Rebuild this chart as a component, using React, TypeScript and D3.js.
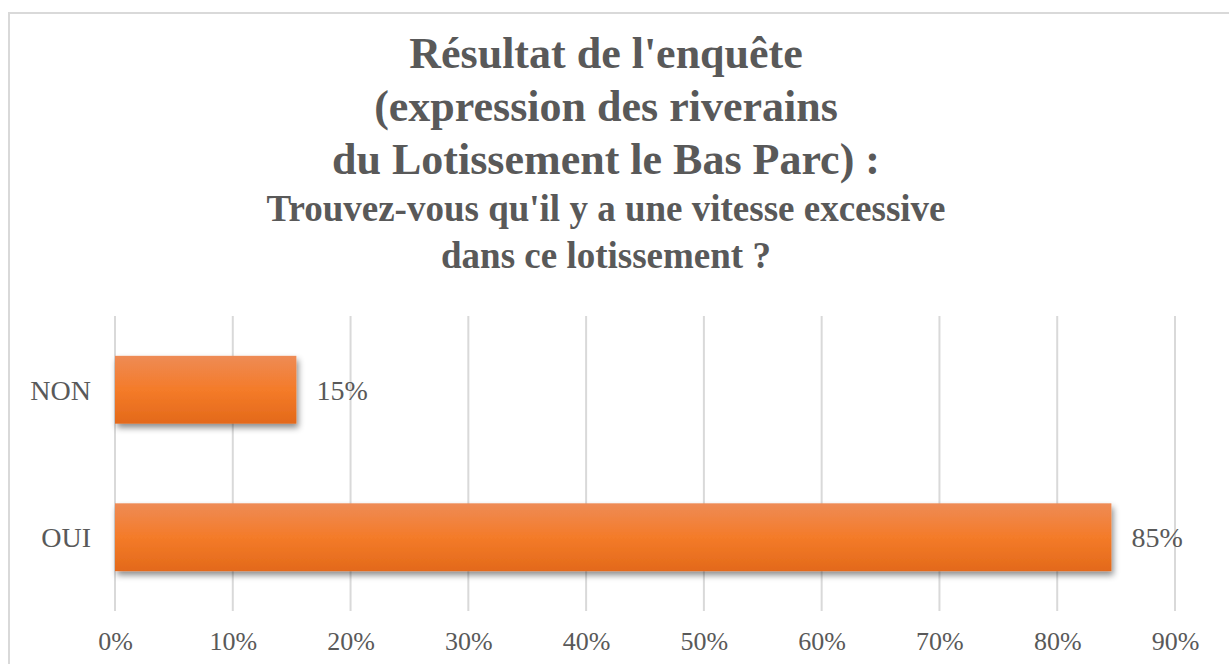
import React, { useEffect, useRef } from 'react';
import * as d3 from 'd3';

// Survey answers (percent)
const categories: string[] = ['NON', 'OUI'];
const values: number[] = [15.4, 84.6];
const valueLabels: string[] = ['15%', '85%'];
const xTicks: number[] = [0, 10, 20, 30, 40, 50, 60, 70, 80, 90];

const titleLines: string[] = [
  "Résultat de l'enquête",
  '(expression des riverains',
  'du Lotissement le Bas Parc) :',
];
const subtitleLines: string[] = [
  "Trouvez-vous qu'il y a une vitesse excessive",
  'dans ce lotissement ?',
];

const TEXT = '#595959';
const GRID = '#D9D9D9';
const FONT = '"Liberation Serif", "Times New Roman", serif';

const App: React.FC = () => {
  const chartRef = useRef<SVGSVGElement | null>(null);

  useEffect(() => {
    d3.select(chartRef.current).selectAll('*').remove();

    const width = 1229;
    const height = 664;
    const plot = { left: 115, right: 1175, top: 316, bottom: 611 };
    const titleX = 606;

    const svg = d3
      .select(chartRef.current)
      .attr('width', width)
      .attr('height', height)
      .style('font-family', FONT);

    // defs: bar gradient + shadow
    const defs = svg.append('defs');
    const grad = defs
      .append('linearGradient')
      .attr('id', 'barGrad')
      .attr('x1', 0)
      .attr('y1', 0)
      .attr('x2', 0)
      .attr('y2', 1);
    grad.append('stop').attr('offset', '0%').attr('stop-color', '#EE8B55');
    grad.append('stop').attr('offset', '50%').attr('stop-color', '#F47B29');
    grad.append('stop').attr('offset', '100%').attr('stop-color', '#E3691A');

    const shadow = defs
      .append('filter')
      .attr('id', 'barShadow')
      .attr('x', '-5%')
      .attr('y', '-20%')
      .attr('width', '115%')
      .attr('height', '150%');
    shadow
      .append('feDropShadow')
      .attr('dx', 2)
      .attr('dy', 4)
      .attr('stdDeviation', 3)
      .attr('flood-color', '#000')
      .attr('flood-opacity', 0.45);

    svg
      .append('rect')
      .attr('width', width)
      .attr('height', height)
      .attr('fill', '#fff');

    // outer chart border
    svg
      .append('rect')
      .attr('x', 9)
      .attr('y', 13)
      .attr('width', 1250)
      .attr('height', 700)
      .attr('fill', 'none')
      .attr('stroke', GRID)
      .attr('stroke-width', 2);

    // Title
    const title = svg
      .append('text')
      .attr('text-anchor', 'middle')
      .attr('fill', TEXT)
      .attr('font-weight', 'bold');
    titleLines.forEach((line, i) => {
      title
        .append('tspan')
        .attr('x', titleX)
        .attr('y', 68 + i * 53)
        .attr('font-size', 44)
        .text(line);
    });
    subtitleLines.forEach((line, i) => {
      title
        .append('tspan')
        .attr('x', titleX)
        .attr('y', 221 + i * 47)
        .attr('font-size', 37)
        .text(line);
    });

    // Scales
    const xScale = d3
      .scaleLinear()
      .domain([0, 90])
      .range([plot.left, plot.right]);

    const yScale = d3
      .scaleBand()
      .domain(categories)
      .range([plot.top, plot.bottom])
      .paddingInner(0.54)
      .paddingOuter(0.27);

    // Gridlines
    svg
      .append('g')
      .selectAll('line')
      .data(xTicks)
      .enter()
      .append('line')
      .attr('x1', (d) => xScale(d))
      .attr('x2', (d) => xScale(d))
      .attr('y1', plot.top)
      .attr('y2', plot.bottom)
      .attr('stroke', GRID)
      .attr('stroke-width', 2);

    // X axis labels
    const xAxis = d3
      .axisBottom(xScale)
      .tickValues(xTicks)
      .tickSize(0)
      .tickPadding(0)
      .tickFormat((d) => `${d}%`);

    const xg = svg
      .append('g')
      .attr('transform', `translate(0,${plot.bottom})`)
      .call(xAxis);
    xg.select('.domain').remove();
    xg.selectAll('text')
      .attr('y', 39)
      .attr('dy', 0)
      .attr('fill', TEXT)
      .style('font-size', '26px')
      .style('font-family', FONT);

    // Y axis labels
    const yAxis = d3.axisLeft(yScale).tickSize(0).tickPadding(0);
    const yg = svg.append('g').attr('transform', 'translate(91,0)').call(yAxis);
    yg.select('.domain').remove();
    yg.selectAll('text')
      .attr('dy', '0.35em')
      .attr('fill', TEXT)
      .style('font-size', '28px')
      .style('font-family', FONT);

    // Bars
    svg
      .selectAll('.bar')
      .data(values)
      .enter()
      .append('rect')
      .attr('class', 'bar')
      .attr('x', xScale(0))
      .attr('y', (_d, i) => yScale(categories[i])!)
      .attr('width', (d) => xScale(d) - xScale(0))
      .attr('height', yScale.bandwidth())
      .attr('fill', 'url(#barGrad)')
      .attr('filter', 'url(#barShadow)');

    // Value labels
    svg
      .selectAll('.val')
      .data(values)
      .enter()
      .append('text')
      .attr('class', 'val')
      .attr('x', (d) => xScale(d) + 20)
      .attr('y', (_d, i) => yScale(categories[i])! + yScale.bandwidth() / 2)
      .attr('dy', '0.35em')
      .attr('fill', TEXT)
      .attr('font-size', 28)
      .text((_d, i) => valueLabels[i]);
  }, []);

  return (
    <svg
      ref={chartRef}
      style={{ position: 'absolute', left: 0, top: 0, display: 'block' }}
    ></svg>
  );
};

export default App;
